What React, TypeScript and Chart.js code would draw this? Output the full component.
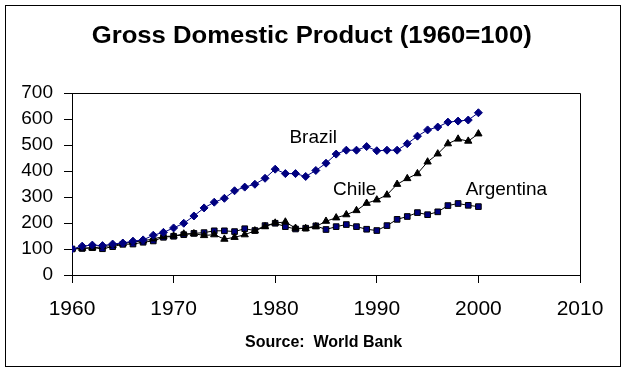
import React, { useEffect, useRef } from "react";
import { Chart, registerables } from "chart.js";

Chart.register(...registerables);

const years = [
  1960, 1961, 1962, 1963, 1964, 1965, 1966, 1967, 1968, 1969,
  1970, 1971, 1972, 1973, 1974, 1975, 1976, 1977, 1978, 1979,
  1980, 1981, 1982, 1983, 1984, 1985, 1986, 1987, 1988, 1989,
  1990, 1991, 1992, 1993, 1994, 1995, 1996, 1997, 1998, 1999, 2000,
];

const brazil = [
  100, 111, 115, 113, 119, 123, 130, 135, 153, 164,
  181, 199, 227, 258, 280, 295, 324, 338, 349, 372,
  407, 390, 390, 379, 402, 430, 465, 480, 480, 494,
  478, 480, 480, 505, 534, 558, 569, 588, 592, 596, 624,
];

const chile = [
  100, 103, 104, 109, 114, 121, 127, 131, 139, 148,
  150, 158, 159, 152, 155, 138, 145, 155, 170, 186,
  200, 204, 180, 179, 186, 207, 220, 232, 248, 276,
  289, 308, 349, 371, 390, 435, 466, 505, 523, 515, 543,
];

const argentina = [
  100, 102, 105, 101, 109, 118, 119, 126, 131, 145,
  149, 155, 160, 163, 170, 170, 167, 178, 171, 190,
  199, 186, 177, 180, 189, 175, 186, 194, 186, 176,
  171, 190, 214, 225, 240, 232, 243, 267, 275, 268, 263,
];

const seriesNames = ["Brazil", "Chile", "Argentina"];
// label anchors in data units [year, value]
const labelAnchors: [number, number][] = [
  [1981.4, 509],
  [1985.7, 308],
  [1998.75, 308],
];

const xTicks = [1960, 1970, 1980, 1990, 2000, 2010];
const yMin = 0;
const yMax = 700;
const yStep = 100;

const titleText = "Gross Domestic Product (1960=100)";
const sourceText = "Source:  World Bank";

const FONT = 'Arial, "Liberation Sans", sans-serif';

export default function App() {
  const ref = useRef<HTMLCanvasElement | null>(null);

  useEffect(() => {
    const canvas = ref.current;
    if (!canvas) return;

    const decor = {
      id: "decor",
      afterDraw(chart: any) {
        const ctx = chart.ctx;
        const ca = chart.chartArea;
        ctx.save();
        // plot area frame
        ctx.strokeStyle = "#000";
        ctx.lineWidth = 1;
        ctx.beginPath();
        ctx.moveTo(Math.round(ca.left) + 0.5, Math.round(ca.top) + 0.5);
        ctx.lineTo(Math.round(ca.right) + 0.5, Math.round(ca.top) + 0.5);
        ctx.lineTo(Math.round(ca.right) + 0.5, Math.round(ca.bottom) + 0.5);
        ctx.stroke();
        // outer frame
        ctx.strokeRect(5.5, 5.5, 615, 361);

        // title
        ctx.fillStyle = "#000";
        ctx.font = `bold 23px ${FONT}`;
        ctx.textBaseline = "alphabetic";
        ctx.textAlign = "center";
        const w = ctx.measureText(titleText).width;
        ctx.save();
        ctx.translate(311.7, 43);
        ctx.scale(440 / w, 1);
        ctx.fillText(titleText, 0, 0);
        ctx.restore();

        // source
        ctx.font = `bold 16px ${FONT}`;
        ctx.fillText(sourceText, 323.6, 346.7);

        // series labels
        const xs = chart.scales.x;
        const ys = chart.scales.y;
        ctx.font = `19px ${FONT}`;
        ctx.textAlign = "left";
        seriesNames.forEach((n, i) => {
          const [ax, ay] = labelAnchors[i];
          ctx.fillText(n, xs.getPixelForValue(ax), ys.getPixelForValue(ay));
        });
        ctx.restore();
      },
    };

    const mk = (arr: number[]) => years.map((y, i) => ({ x: y, y: arr[i] }));

    const chart = new Chart(canvas, {
      type: "line",
      data: {
        datasets: [
          {
            label: seriesNames[0],
            data: mk(brazil),
            borderColor: "#000080",
            backgroundColor: "#000080",
            pointStyle: "rectRot",
            pointRadius: 4,
            pointBorderColor: "#000080",
            pointBackgroundColor: "#000080",
            borderWidth: 1,
            pointBorderWidth: 1,
            order: 1,
          },
          {
            label: seriesNames[1],
            data: mk(chile),
            borderColor: "#000000",
            backgroundColor: "#000000",
            pointStyle: "triangle",
            pointRadius: 4.2,
            pointBorderColor: "#000000",
            pointBackgroundColor: "#000000",
            borderWidth: 1,
            pointBorderWidth: 1,
            order: 2,
          },
          {
            label: seriesNames[2],
            data: mk(argentina),
            borderColor: "#000000",
            backgroundColor: "#000080",
            pointStyle: "rect",
            pointRadius: 4,
            pointBorderColor: "#000000",
            pointBackgroundColor: "#000080",
            borderWidth: 1,
            pointBorderWidth: 1,
            order: 3,
          },
        ],
      },
      options: {
        responsive: false,
        animation: false,
        devicePixelRatio: 1,
        layout: { padding: { top: 93, right: 43, bottom: 0, left: 0 } },
        plugins: {
          legend: { display: false },
          title: { display: false },
          tooltip: { enabled: false },
        },
        scales: {
          x: {
            type: "linear",
            min: xTicks[0],
            max: xTicks[xTicks.length - 1],
            afterFit: (s: any) => {
              s.height = 98;
            },
            afterBuildTicks: (s: any) => {
              s.ticks = xTicks.map((v) => ({ value: v }));
            },
            grid: {
              display: true,
              drawOnChartArea: false,
              drawTicks: true,
              tickLength: 8,
              color: "#000",
            },
            border: { display: true, color: "#000", width: 1 },
            ticks: {
              color: "#000",
              font: { family: FONT, size: 21 },
              padding: 14,
              maxRotation: 0,
              autoSkip: false,
              callback: (v: any) => String(v),
            },
          },
          y: {
            type: "linear",
            min: yMin,
            max: yMax,
            afterFit: (s: any) => {
              s.width = 72;
            },
            grid: {
              display: true,
              drawOnChartArea: false,
              drawTicks: true,
              tickLength: 8,
              color: "#000",
            },
            border: { display: true, color: "#000", width: 1 },
            ticks: {
              stepSize: yStep,
              color: "#000",
              font: { family: FONT, size: 19 },
              padding: 11,
              callback: (v: any) => String(v),
            },
          },
        },
      },
      plugins: [decor],
    } as any);

    return () => chart.destroy();
  }, []);

  return (
    <div style={{ position: "fixed", left: 0, top: 0, width: 623, height: 373, background: "#fff" }}>
      <canvas ref={ref} width={623} height={373} style={{ display: "block" }} />
    </div>
  );
}
